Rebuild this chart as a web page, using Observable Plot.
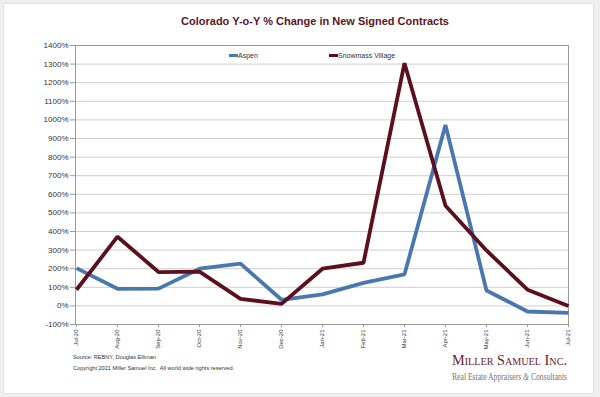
<!DOCTYPE html>
<html><head><meta charset="utf-8">
<script src="https://cdn.jsdelivr.net/npm/d3@7"></script>
<script src="https://cdn.jsdelivr.net/npm/@observablehq/plot@0.6"></script>
<style>
html,body{margin:0;padding:0;background:#efefef;}
#wrap{position:relative;width:600px;height:397px;overflow:hidden;background:#efefef;font-family:"Liberation Sans",Arial,sans-serif;}
#card{position:absolute;left:3px;top:3px;width:589px;height:389px;background:#fff;border:1px solid #e2e2e2;}
#chart{position:absolute;left:0;top:0;}
.abs{position:absolute;white-space:nowrap;}
#title{left:0;width:630px;top:15px;text-align:center;font-size:11px;font-weight:bold;color:#5a1628;}
.leg{font-size:7px;color:#333;top:52px;}
.sw{display:inline-block;width:9px;height:3px;vertical-align:middle;position:relative;top:-1px;}
.foot{font-size:5.6px;color:#333;left:73px;}
#brand{left:452px;top:351px;font-family:"Liberation Serif","Times New Roman",serif;font-variant:small-caps;font-size:15.5px;color:#6b1d2e;transform-origin:0 0;}
#tag{left:452px;top:372px;font-family:"Liberation Serif","Times New Roman",serif;font-size:9.3px;color:#777;transform-origin:0 0;}
</style></head>
<body>
<div id="wrap">
  <div id="card"></div>
  <div id="chart"></div>
  <div id="title" class="abs">Colorado Y-o-Y % Change in New Signed Contracts</div>
  <div class="abs leg" style="left:229px"><span class="sw" style="background:#4a78ae"></span>Aspen</div>
  <div class="abs leg" style="left:329px"><span class="sw" style="background:#5c0f1f"></span>Snowmass Village</div>
  <div class="abs foot" style="top:354px">Source: REBNY, Douglas Elliman</div>
  <div class="abs foot" style="top:365px">Copyright 2021 Miller Samuel Inc.&nbsp; All world wide rights reserved.</div>
  <div id="brand" class="abs">Miller Samuel Inc.</div>
  <div id="tag" class="abs">Real Estate Appraisers <i>&amp;</i> Consultants</div>
</div>
<script>
const months = ["Jul-20","Aug-20","Sep-20","Oct-20","Nov-20","Dec-20","Jan-21","Feb-21","Mar-21","Apr-21","May-21","Jun-21","Jul-21"];
const aspen = [203, 92, 93, 200, 227, 33, 62, 124, 170, 972, 83, -30, -37];
const snowmass = [87, 372, 182, 184, 38, 11, 200, 232, 1305, 538, 298, 87, 0];
const yTicks = d3.range(-100, 1401, 100);
const seriesNames = ["Aspen", "Snowmass Village"];
const seriesColors = ["#4a78ae", "#5c0f1f"];

const rows = [];
months.forEach((m, i) => {
  rows.push({month: m, value: aspen[i], series: seriesNames[0]});
  rows.push({month: m, value: snowmass[i], series: seriesNames[1]});
});

const chart = Plot.plot({
  width: 600,
  height: 397,
  marginLeft: 75,
  marginRight: 32,
  marginTop: 45,
  marginBottom: 73,
  style: {background: "transparent", fontFamily: "Liberation Sans, Arial, sans-serif", color: "#333"},
  x: {type: "point", domain: months, padding: 0, label: null},
  y: {domain: [-100, 1400], ticks: yTicks, label: null},
  color: {domain: seriesNames, range: seriesColors},
  marks: [
    Plot.gridY(yTicks, {stroke: "#cfcfcf", strokeOpacity: 1}),
    Plot.frame({stroke: "#9a9a9a"}),
    Plot.axisY(yTicks, {tickFormat: d => d + "%", tickSize: 5, tickPadding: 2, fontSize: 8, stroke: "#999", label: null}),
    Plot.axisX({tickRotate: -90, tickSize: 3, tickPadding: 2, fontSize: 6, stroke: "#999", label: null}),
    Plot.lineY(rows, {x: "month", y: "value", z: "series", stroke: "series", strokeWidth: 3.8, strokeLinejoin: "miter", strokeLinecap: "butt"})
  ]
});
document.getElementById("chart").appendChild(chart);

// fit brand texts to the reference width
for (const id of ["brand", "tag"]) {
  const el = document.getElementById(id);
  const w = el.getBoundingClientRect().width;
  el.style.transform = `scaleX(${115 / w})`;
}
</script>
</body></html>
